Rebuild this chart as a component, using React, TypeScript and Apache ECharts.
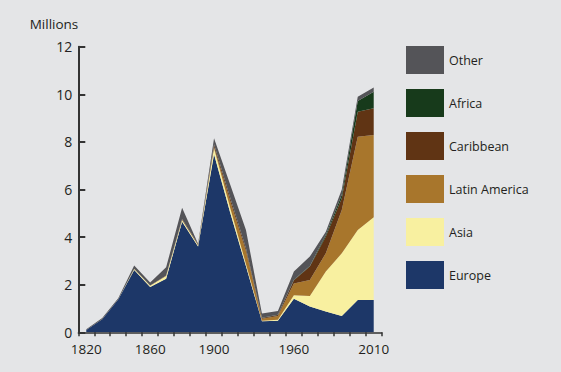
import React, { useEffect, useRef } from "react";
import * as echarts from "echarts";

const decades = ["1820","1830","1840","1850","1860","1870","1880","1890","1900","1910","1920","1930","1940","1950","1960","1970","1980","1990","2000"];
const xTickLabels = ["1820","","","","1860","","","","1900","","","","","1960","","","","","2010"];
const yTicks = { min: 0, max: 12, interval: 2 };

const europe = [0.10, 0.55, 1.38, 2.62, 1.90, 2.25, 4.65, 3.60, 7.48, 5.05, 2.77, 0.46, 0.49, 1.41, 1.08, 0.87, 0.68, 1.36, 1.36];
const asia = [0, 0, 0, 0.04, 0.06, 0.12, 0.07, 0.06, 0.25, 0.2, 0.1, 0.03, 0.04, 0.15, 0.44, 1.68, 2.64, 2.94, 3.47];
const latinAmerica = [0, 0, 0, 0.01, 0.01, 0.01, 0.01, 0.01, 0.06, 0.3, 0.55, 0.08, 0.15, 0.49, 0.68, 0.77, 1.82, 3.92, 3.46];
const caribbean = [0, 0, 0, 0, 0, 0.01, 0.03, 0.03, 0.1, 0.12, 0.1, 0.03, 0.05, 0.14, 0.56, 0.7, 0.49, 1.05, 1.12];
const africa = [0, 0, 0, 0, 0, 0, 0, 0, 0.01, 0.01, 0.01, 0.01, 0.01, 0.02, 0.03, 0.08, 0.15, 0.45, 0.7];
const other = [0.03, 0.05, 0.05, 0.14, 0.12, 0.34, 0.47, 0.02, 0.25, 0.55, 0.77, 0.18, 0.15, 0.34, 0.39, 0.13, 0.22, 0.18, 0.18];

const seriesDefs = [
  { name: "Europe", data: europe, color: "#1d3768" },
  { name: "Asia", data: asia, color: "#f8f0a0" },
  { name: "Latin America", data: latinAmerica, color: "#a8762c" },
  { name: "Caribbean", data: caribbean, color: "#603414" },
  { name: "Africa", data: africa, color: "#173a1b" },
  { name: "Other", data: other, color: "#545458" },
];
const legendOrder = ["Other", "Africa", "Caribbean", "Latin America", "Asia", "Europe"];

const FONT = "'Open Sans', 'DejaVu Sans', sans-serif";
const TEXT = "#231f20";
const AXIS = "#333333";

export default function App() {
  const ref = useRef<HTMLDivElement>(null);
  useEffect(() => {
    document.body.style.margin = "0";
    const chart = echarts.init(ref.current!, null, { renderer: "svg" });
    chart.setOption({
      animation: false,
      backgroundColor: "#e4e5e7",
      textStyle: { fontFamily: FONT, color: TEXT },
      grid: { left: 78.3, right: 179.3, top: 46.7, bottom: 39.7, containLabel: false },
      legend: {
        orient: "vertical",
        left: 406,
        top: 46,
        padding: 0,
        icon: "rect",
        itemWidth: 38,
        itemHeight: 28,
        itemGap: 15,
        data: legendOrder,
        textStyle: { fontFamily: FONT, fontSize: 12.5, color: TEXT },
        selectedMode: false,
      },
      xAxis: {
        type: "category",
        data: decades,
        boundaryGap: true,
        axisLine: { show: true, lineStyle: { color: AXIS, width: 1.5 } },
        axisTick: { show: true, interval: 0, length: 4, inside: false, lineStyle: { color: AXIS, width: 1.5 } },
        axisLabel: {
          interval: 0,
          margin: 10,
          fontFamily: FONT,
          fontSize: 13.5,
          color: TEXT,
          formatter: (_v: string, i: number) => xTickLabels[i] || "",
        },
        splitLine: { show: false },
      },
      yAxis: {
        type: "value",
        min: yTicks.min,
        max: yTicks.max,
        interval: yTicks.interval,
        name: "Millions",
        nameLocation: "end",
        nameGap: 16,
        nameTextStyle: { fontFamily: FONT, fontSize: 13.5, color: TEXT, align: "right" },
        axisLine: { show: true, lineStyle: { color: AXIS, width: 2 } },
        axisTick: { show: true, inside: true, length: 7, lineStyle: { color: AXIS, width: 2 } },
        axisLabel: { margin: 6, fontFamily: FONT, fontSize: 14, color: TEXT },
        splitLine: { show: false },
      },
      series: seriesDefs.map((s) => ({
        name: s.name,
        type: "line",
        stack: "total",
        data: s.data,
        showSymbol: false,
        symbol: "none",
        lineStyle: { width: 0, color: s.color },
        itemStyle: { color: s.color },
        areaStyle: { color: s.color, opacity: 1 },
        emphasis: { disabled: true },
      })),
    });
    return () => chart.dispose();
  }, []);
  return <div ref={ref} style={{ position: "fixed", left: 0, top: 0, width: 561, height: 372 }} />;
}
